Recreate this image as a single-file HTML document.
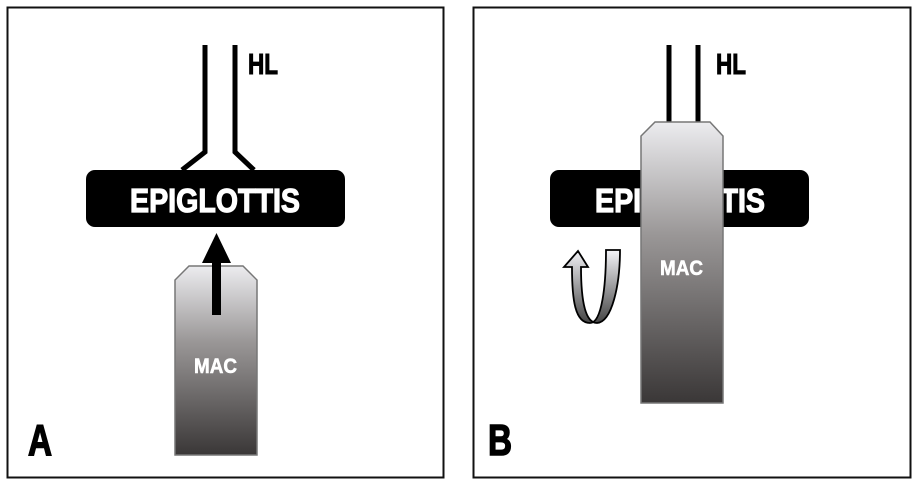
<!DOCTYPE html>
<html><head><style>body{margin:0;background:#fff}</style></head><body>
<svg width="918" height="486" xmlns="http://www.w3.org/2000/svg" style="display:block">
<defs>
<linearGradient id="g" x1="0" y1="0" x2="0" y2="1">
<stop offset="0" stop-color="#ececef"/><stop offset="0.4" stop-color="#9a9797"/><stop offset="1" stop-color="#3a3737"/>
</linearGradient>
<linearGradient id="ga" x1="0" y1="0" x2="0" y2="1">
<stop offset="0" stop-color="#f4f4f8"/><stop offset="1" stop-color="#444"/>
</linearGradient>
</defs>
<g font-family="Liberation Sans, sans-serif" font-weight="bold">
<rect x="7.5" y="7.5" width="436" height="470" fill="none" stroke="#111" stroke-width="2"/>
<rect x="473.5" y="7.5" width="437" height="470" fill="none" stroke="#111" stroke-width="2"/>
<!-- Panel A -->
<polyline points="205,45 205,152 182,170" fill="none" stroke="#000" stroke-width="5"/>
<polyline points="235,45 235,152 254,170" fill="none" stroke="#000" stroke-width="5"/>
<text x="248" y="74" font-size="29" textLength="30" lengthAdjust="spacingAndGlyphs" stroke="#000" stroke-width="1">HL</text>
<rect x="86" y="170" width="259" height="57" rx="9" fill="#000"/>
<text x="130" y="212" font-size="33" fill="#fff" stroke="#fff" stroke-width="1.2" textLength="170" lengthAdjust="spacingAndGlyphs">EPIGLOTTIS</text>
<path d="M189,266 L243,266 L257,280 L257,455 L175,455 L175,280 Z" fill="url(#g)" stroke="#777" stroke-width="1.5"/>
<text x="194" y="373" font-size="21" fill="#fff" stroke="#fff" stroke-width="0.6" textLength="43" lengthAdjust="spacingAndGlyphs">MAC</text>
<rect x="212" y="258" width="9" height="57" fill="#000"/>
<polygon points="216.5,233 202,263 231,263" fill="#000"/>
<text x="28" y="455" font-size="44" textLength="24" lengthAdjust="spacingAndGlyphs" stroke="#000" stroke-width="1.5">A</text>
<!-- Panel B -->
<line x1="669" y1="45" x2="669" y2="123" stroke="#000" stroke-width="5"/>
<line x1="698" y1="45" x2="698" y2="123" stroke="#000" stroke-width="5"/>
<text x="716" y="74" font-size="29" textLength="30" lengthAdjust="spacingAndGlyphs" stroke="#000" stroke-width="1">HL</text>
<rect x="550" y="170" width="259" height="57" rx="9" fill="#000"/>
<text x="595" y="212" font-size="33" fill="#fff" stroke="#fff" stroke-width="1.2" textLength="170" lengthAdjust="spacingAndGlyphs">EPIGLOTTIS</text>
<path d="M655,122 L710,122 L723,136 L723,403 L641,403 L641,136 Z" fill="url(#g)" stroke="#777" stroke-width="1.5"/>
<text x="660" y="275" font-size="21" fill="#fff" stroke="#fff" stroke-width="0.6" textLength="43" lengthAdjust="spacingAndGlyphs">MAC</text>
<path d="M606,250 L620,250 C620,285 612,322 597,323 C585,323 581,300 581,267 L588,267 L578,251 L564,267 L572,267 C572,300 575,323 590,323 C602,323 606,285 606,250 Z" fill="url(#ga)" stroke="#000" stroke-width="1.8"/>
<text x="488" y="455" font-size="44" textLength="24" lengthAdjust="spacingAndGlyphs" stroke="#000" stroke-width="1.5">B</text>
</g>
</svg>
</body></html>
